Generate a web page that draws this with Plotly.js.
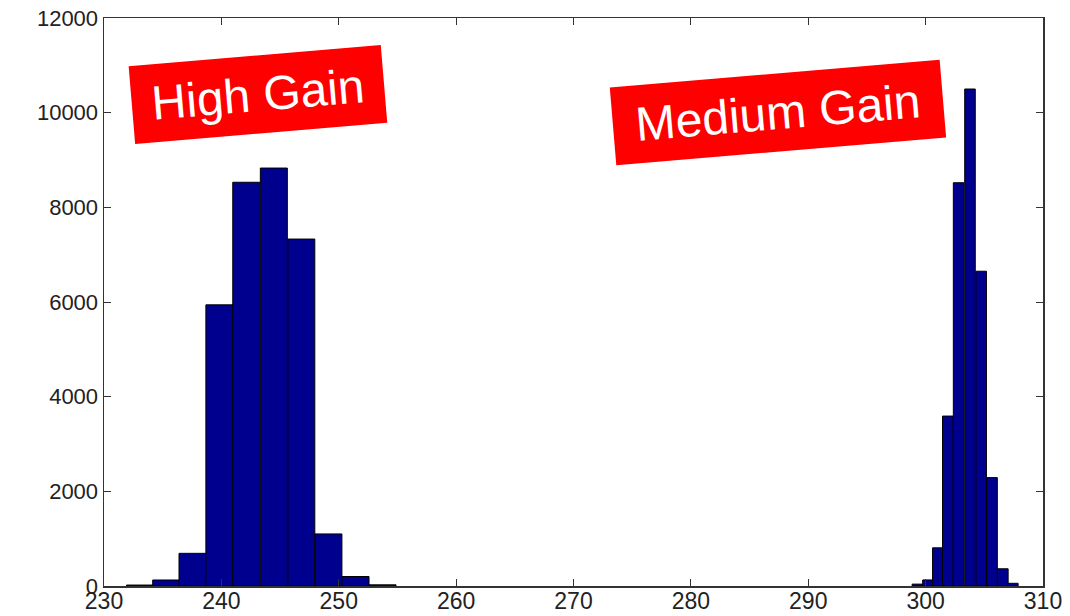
<!DOCTYPE html>
<html>
<head>
<meta charset="utf-8">
<script src="https://cdn.plot.ly/plotly-3.0.1.min.js"></script>
<style>
  html, body { margin: 0; padding: 0; background: #ffffff; }
  #chart { width: 1070px; height: 616px; }
</style>
</head>
<body>
<div id="chart"></div>
<script>
// High Gain histogram (bin centres and counts)
const highGainBins = [233.07, 235.3, 237.54, 239.83, 242.12, 244.47, 246.81, 249.12, 251.43, 253.73];
const highGainCounts = [20, 127, 690, 5940, 8530, 8830, 7330, 1100, 200, 25];
const highGainBinWidth = 2.3;

// Medium Gain histogram (bin centres and counts)
const mediumGainBins = [299.3, 300.2, 301.04, 301.89, 302.81, 303.78, 304.73, 305.66, 306.58, 307.43];
const mediumGainCounts = [40, 128, 807, 3590, 8520, 10500, 6650, 2290, 364, 57];
const mediumGainBinWidth = 0.9;

const xTickValues = [230, 240, 250, 260, 270, 280, 290, 300, 310];
const yTickValues = [0, 2000, 4000, 6000, 8000, 10000, 12000];

const labels = ["High Gain", "Medium Gain"];

const barColor = "#00008F";

const traces = [
  {
    type: "bar",
    x: highGainBins,
    y: highGainCounts,
    width: highGainBins.map(() => highGainBinWidth),
    marker: { color: barColor, line: { color: "#000000", width: 1 } },
    hoverinfo: "x+y",
    showlegend: false
  },
  {
    type: "bar",
    x: mediumGainBins,
    y: mediumGainCounts,
    width: mediumGainBins.map(() => mediumGainBinWidth),
    marker: { color: barColor, line: { color: "#000000", width: 1 } },
    hoverinfo: "x+y",
    showlegend: false
  }
];

const axisCommon = {
  showgrid: false,
  zeroline: false,
  showline: true,
  linecolor: "#333333",
  linewidth: 1.5,
  mirror: "ticks",
  ticks: "inside",
  ticklen: 7,
  tickwidth: 1,
  tickcolor: "#333333"
};

const layout = {
  width: 1070,
  height: 616,
  margin: { l: 104, r: 27, t: 18, b: 30, pad: 0 },
  paper_bgcolor: "#ffffff",
  plot_bgcolor: "#ffffff",
  barmode: "overlay",
  showlegend: false,
  xaxis: Object.assign({}, axisCommon, {
    range: [230, 310],
    tickmode: "array",
    tickvals: xTickValues,
    ticktext: xTickValues.map(String),
    ticklabelstandoff: -6,
    tickfont: { family: "Liberation Sans, Arial, sans-serif", size: 23, color: "#222222" }
  }),
  yaxis: Object.assign({}, axisCommon, {
    range: [0, 12000],
    tickmode: "array",
    tickvals: yTickValues,
    ticktext: yTickValues.map(String),
    tickfont: { family: "Liberation Sans, Arial, sans-serif", size: 22, color: "#222222" }
  }),
  annotations: [
    {
      text: labels[0],
      x: 243.1, y: 10374, xref: "x", yref: "y",
      xanchor: "center", yanchor: "middle",
      showarrow: false,
      textangle: -4.8,
      bgcolor: "#FF0000",
      borderpad: 0,
      width: 252, height: 77,
      align: "center", valign: "middle",
      font: { family: "Liberation Sans, Arial, sans-serif", size: 48, color: "#ffffff" }
    },
    {
      text: labels[1],
      x: 287.45, y: 9994, xref: "x", yref: "y",
      xanchor: "center", yanchor: "middle",
      showarrow: false,
      textangle: -4.8,
      bgcolor: "#FF0000",
      borderpad: 0,
      width: 330, height: 77,
      align: "center", valign: "middle",
      font: { family: "Liberation Sans, Arial, sans-serif", size: 48, color: "#ffffff" }
    }
  ]
};

Plotly.newPlot("chart", traces, layout, { staticPlot: true, displayModeBar: false });
</script>
</body>
</html>
